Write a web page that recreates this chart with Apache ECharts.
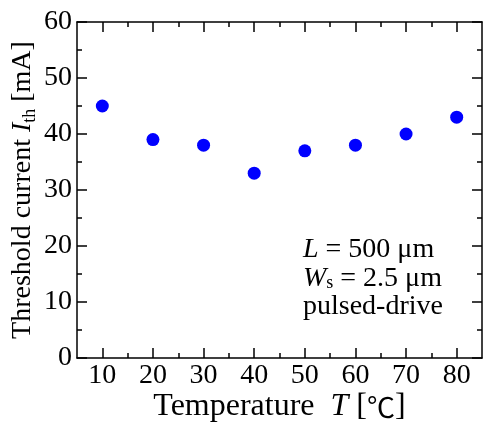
<!DOCTYPE html>
<html>
<head>
<meta charset="utf-8">
<script src="https://cdn.jsdelivr.net/npm/echarts@6/dist/echarts.min.js"></script>
<style>
  html, body { margin: 0; padding: 0; background: #fff; }
  #chart { width: 484px; height: 425px; }
</style>
</head>
<body>
<div id="chart"></div>
<script>
// temperature [C] vs threshold current [mA]
var temperatures = [10, 20, 30, 40, 50, 60, 70, 80];
var thresholds = [45, 39, 38, 33, 37, 38, 40, 43];
var xMajorTicks = [10, 20, 30, 40, 50, 60, 70, 80];
var xMinorTicks = [15, 25, 35, 45, 55, 65, 75];
var annotationLines = ['{i|L} = 500 μm', '{i|W}{s|s} = 2.5 μm', 'pulsed-drive'];

var serif = '"Liberation Serif", "Times New Roman", serif';
var lineStyle = { color: '#000', width: 1.5 };

function xAxisOf(pos, ticks, len, showLabel, showLine) {
  return {
    type: 'value', position: pos, min: 5, max: 85,
    axisLine: { show: showLine, lineStyle: lineStyle },
    axisTick: { show: true, inside: true, length: len, customValues: ticks, lineStyle: lineStyle },
    axisLabel: {
      show: showLabel, customValues: ticks, margin: 4,
      fontFamily: serif, fontSize: 28, color: '#000'
    },
    splitLine: { show: false }
  };
}

function yAxisOf(pos, showLabel) {
  return {
    type: 'value', position: pos, min: 0, max: 60, interval: 10,
    axisLine: { show: true, onZero: false, lineStyle: lineStyle },
    axisTick: { show: true, inside: true, length: 10, lineStyle: lineStyle },
    minorTick: { show: true, splitNumber: 2, length: 5, lineStyle: lineStyle },
    axisLabel: { show: showLabel, margin: 5, fontFamily: serif, fontSize: 28, color: '#000' },
    splitLine: { show: false }
  };
}

var chart = echarts.init(document.getElementById('chart'));

var xMain = xAxisOf('bottom', xMajorTicks, 10, true, true);
xMain.name = '{a|Temperature  }{i|T}{a| [}{c|℃}{a|]}';
xMain.nameLocation = 'middle';
xMain.nameGap = 33;
xMain.nameMoveOverlap = false;
xMain.nameTextStyle = {
  rich: {
    a: { fontFamily: serif, fontSize: 32, color: '#000' },
    i: { fontFamily: serif, fontSize: 32, fontStyle: 'italic', color: '#000' },
    c: { fontFamily: '"Noto Sans CJK JP", sans-serif', fontSize: 28, color: '#000' }
  }
};

var yMain = yAxisOf('left', true);
yMain.name = '{a|Threshold current }{i|I}{s|th}{a| [mA]}';
yMain.nameLocation = 'middle';
yMain.nameGap = 38;
yMain.nameMoveOverlap = false;
yMain.nameTextStyle = {
  rich: {
    a: { fontFamily: serif, fontSize: 28, lineHeight: 32, color: '#000' },
    i: { fontFamily: serif, fontSize: 28, lineHeight: 32, fontStyle: 'italic', color: '#000' },
    s: { fontFamily: serif, fontSize: 18, lineHeight: 16, verticalAlign: 'bottom', color: '#000' }
  }
};

var annRich = {
  a: { fontFamily: serif, fontSize: 28, lineHeight: 28, color: '#000' },
  i: { fontFamily: serif, fontSize: 28, lineHeight: 28, fontStyle: 'italic', color: '#000' },
  s: { fontFamily: serif, fontSize: 18, lineHeight: 14, verticalAlign: 'bottom', color: '#000' }
};

var option = {
  animation: false,
  backgroundColor: '#fff',
  grid: { left: 77, right: 2, top: 22, bottom: 67, containLabel: false, outerBoundsMode: 'none' },
  xAxis: [
    xMain,
    xAxisOf('bottom', xMinorTicks, 5, false, false),
    xAxisOf('top', xMajorTicks, 10, false, true),
    xAxisOf('top', xMinorTicks, 5, false, false)
  ],
  yAxis: [yMain, yAxisOf('right', false)],
  graphic: annotationLines.map(function (t, i) {
    return {
      type: 'text', left: 303, top: 236 + i * 28.5,
      style: { text: t, fontFamily: serif, fontSize: 28, fill: '#000', rich: annRich }
    };
  }),
  series: [{
    type: 'scatter',
    data: temperatures.map(function (t, i) { return [t, thresholds[i]]; }),
    symbolSize: 13,
    itemStyle: { color: '#0000ff', opacity: 1 }
  }]
};
chart.setOption(option);
</script>
</body>
</html>
